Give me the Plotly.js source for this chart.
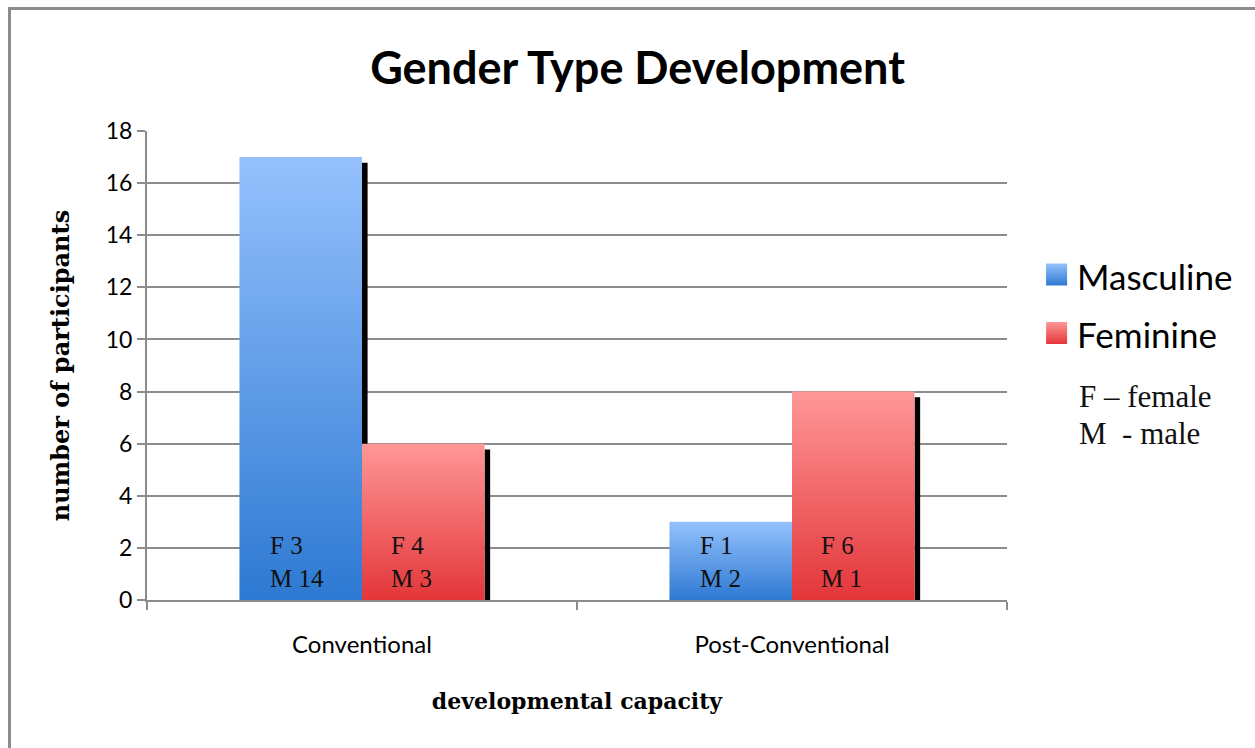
<!DOCTYPE html>
<html>
<head>
<meta charset="utf-8">
<script src="https://cdn.plot.ly/plotly-3.0.1.min.js"></script>
<style>
  html, body { margin: 0; padding: 0; background: #fff; overflow: hidden; }
  #chart { position: absolute; left: 0; top: 0; width: 1255px; height: 748px; }
  #frame { position: absolute; left: 8px; top: 7px; width: 1400px; height: 900px;
           border-top: 3px solid #8c8c8c; border-left: 3px solid #8c8c8c; pointer-events: none; }
</style>
</head>
<body>
<div id="chart"></div>
<div id="frame"></div>
<script>
// Participants per developmental stage, split by gender type
const categories = ['Conventional', 'Post-Conventional'];
const masculine = [17, 3];
const feminine = [6, 8];
// Breakdown by sex written inside each bar
const mascFemale = [3, 1];
const mascMale = [14, 2];
const femFemale = [4, 6];
const femMale = [3, 1];
const seriesNames = ['Masculine', 'Feminine'];
const keyLines = ['F \u2013 female', 'M \u00a0- male'];

const GRID = '#8c8c8c';
const SANS = 'Lato, "Open Sans", sans-serif';
const SERIF = '"Liberation Serif", "DejaVu Serif", serif';
const SERIF_TITLE = '"DejaVu Serif", serif';
const BARGAP = 0.43;
const HALF = (1 - BARGAP) / 2;   // width of one bar in category units

const traces = [
  { type: 'bar', name: seriesNames[0], x: categories, y: masculine,
    marker: { color: '#5b9aea', line: { width: 0 } }, legendgroup: 'm', hoverinfo: 'y' },
  { type: 'bar', name: seriesNames[1], x: categories, y: feminine,
    marker: { color: '#f46465', line: { width: 0 } }, legendgroup: 'f', hoverinfo: 'y' }
];

// Dark drop shadow on the right side of every bar
const shapes = [];
const shadowW = 0.013;
categories.forEach((c, i) => {
  [[masculine, i], [feminine, i + HALF]].forEach(([vals, edge]) => {
    shapes.push({ type: 'rect', layer: 'between', xref: 'x', yref: 'y',
      x0: edge, x1: edge + shadowW, y0: 0, y1: vals[i] - 0.22,
      fillcolor: '#000', line: { width: 0 } });
  });
});

// In-bar labels (female / male counts)
const annotations = [];
const labelFont = { family: SERIF, size: 25, color: '#111' };
categories.forEach((c, i) => {
  annotations.push({ xref: 'x', yref: 'y', x: i - HALF, y: 0, xanchor: 'left', yanchor: 'bottom',
    xshift: 29, yshift: 6, align: 'left', showarrow: false,
    text: 'F ' + mascFemale[i] + '<br>M ' + mascMale[i], font: labelFont });
  annotations.push({ xref: 'x', yref: 'y', x: i, y: 0, xanchor: 'left', yanchor: 'bottom',
    xshift: 27, yshift: 6, align: 'left', showarrow: false,
    text: 'F ' + femFemale[i] + '<br>M ' + femMale[i], font: labelFont });
});
// Key for the in-bar abbreviations
keyLines.forEach((t, k) => {
  annotations.push({ xref: 'paper', yref: 'paper', x: 1.081, y: 0.433 - k * 0.079,
    xanchor: 'left', yanchor: 'middle', align: 'left', showarrow: false, text: t,
    font: { family: SERIF, size: 31, color: '#111' } });
});

const layout = {
  width: 1255, height: 748,
  margin: { l: 147, r: 248, t: 131, b: 148 },
  paper_bgcolor: '#fff', plot_bgcolor: '#fff',
  barmode: 'group', bargap: BARGAP, bargroupgap: 0,
  title: { text: '<b>Gender Type Development</b>', xref: 'container', yref: 'container',
    x: 0.508, y: 0.909, xanchor: 'center', yanchor: 'middle',
    font: { family: SANS, size: 45, color: '#000' } },
  xaxis: {
    type: 'category', showline: true, linecolor: GRID, linewidth: 2,
    ticks: 'outside', tickson: 'boundaries', ticklen: 8, tickwidth: 2, tickcolor: GRID,
    showgrid: false, ticklabelstandoff: 22,
    tickfont: { family: SANS, size: 24, color: '#000' },
    title: { text: '<b>developmental capacity</b>', standoff: 37,
      font: { family: SERIF_TITLE, size: 22, color: '#000' } }
  },
  yaxis: {
    range: [0, 18], dtick: 2, showline: true, linecolor: GRID, linewidth: 2,
    ticks: 'outside', ticklen: 8, tickwidth: 2, tickcolor: GRID,
    showgrid: true, gridcolor: GRID, gridwidth: 2, zeroline: false,
    tickfont: { family: SANS, size: 23, color: '#000' },
    title: { text: '<b>number of participants</b>', standoff: 29,
      font: { family: SERIF_TITLE, size: 24, color: '#000' } }
  },
  legend: {
    x: 1.035, y: 0.753, xanchor: 'left', yanchor: 'top',
    traceorder: 'grouped', tracegroupgap: 10,
    font: { family: SANS, size: 35, color: '#000' },
    bgcolor: 'rgba(0,0,0,0)'
  },
  shapes: shapes,
  annotations: annotations,
  showlegend: true
};

// Vertical light-to-dark gradients for the bars and legend swatches
const gradients = [
  { id: 'gradMasc', top: '#95c1fd', bottom: '#2d79d2' },
  { id: 'gradFem', top: '#ff9797', bottom: '#e3363a' }
];

function applyGradients(gd) {
  const svg = gd.querySelector('svg.main-svg');
  const ns = 'http://www.w3.org/2000/svg';
  let defs = svg.querySelector('defs');
  if (!defs) { defs = document.createElementNS(ns, 'defs'); svg.insertBefore(defs, svg.firstChild); }
  gradients.forEach(g => {
    const lg = document.createElementNS(ns, 'linearGradient');
    lg.setAttribute('id', g.id);
    lg.setAttribute('x1', '0'); lg.setAttribute('y1', '0');
    lg.setAttribute('x2', '0'); lg.setAttribute('y2', '1');
    [[0, g.top], [1, g.bottom]].forEach(([o, c]) => {
      const st = document.createElementNS(ns, 'stop');
      st.setAttribute('offset', o);
      st.setAttribute('stop-color', c);
      lg.appendChild(st);
    });
    defs.appendChild(lg);
  });
  gd.querySelectorAll('.barlayer .trace').forEach((t, k) => {
    t.querySelectorAll('path').forEach(p => { p.style.fill = 'url(#' + gradients[k].id + ')'; });
  });
  // Larger square swatches, placed just left of each legend label
  gd.querySelectorAll('.legend .traces').forEach((t, k) => {
    const text = t.querySelector('.legendtext');
    const p = t.querySelector('.legendpoints path');
    if (!p || !text) return;
    p.style.fill = 'url(#' + gradients[k].id + ')';
    p.style.stroke = 'none';
    p.setAttribute('transform', '');
    p.setAttribute('d', 'M-10.5,-11H10.5V11H-10.5Z');
    const tr = text.getBoundingClientRect();
    const pr = p.getBoundingClientRect();
    const dx = (tr.left - 31) - pr.left;
    const dy = (tr.top + tr.height * 0.47) - (pr.top + pr.height / 2);
    p.setAttribute('transform', 'translate(' + dx + ',' + dy + ')');
  });
}

Plotly.newPlot('chart', traces, layout, { displayModeBar: false, staticPlot: true })
  .then(applyGradients);
</script>
</body>
</html>
